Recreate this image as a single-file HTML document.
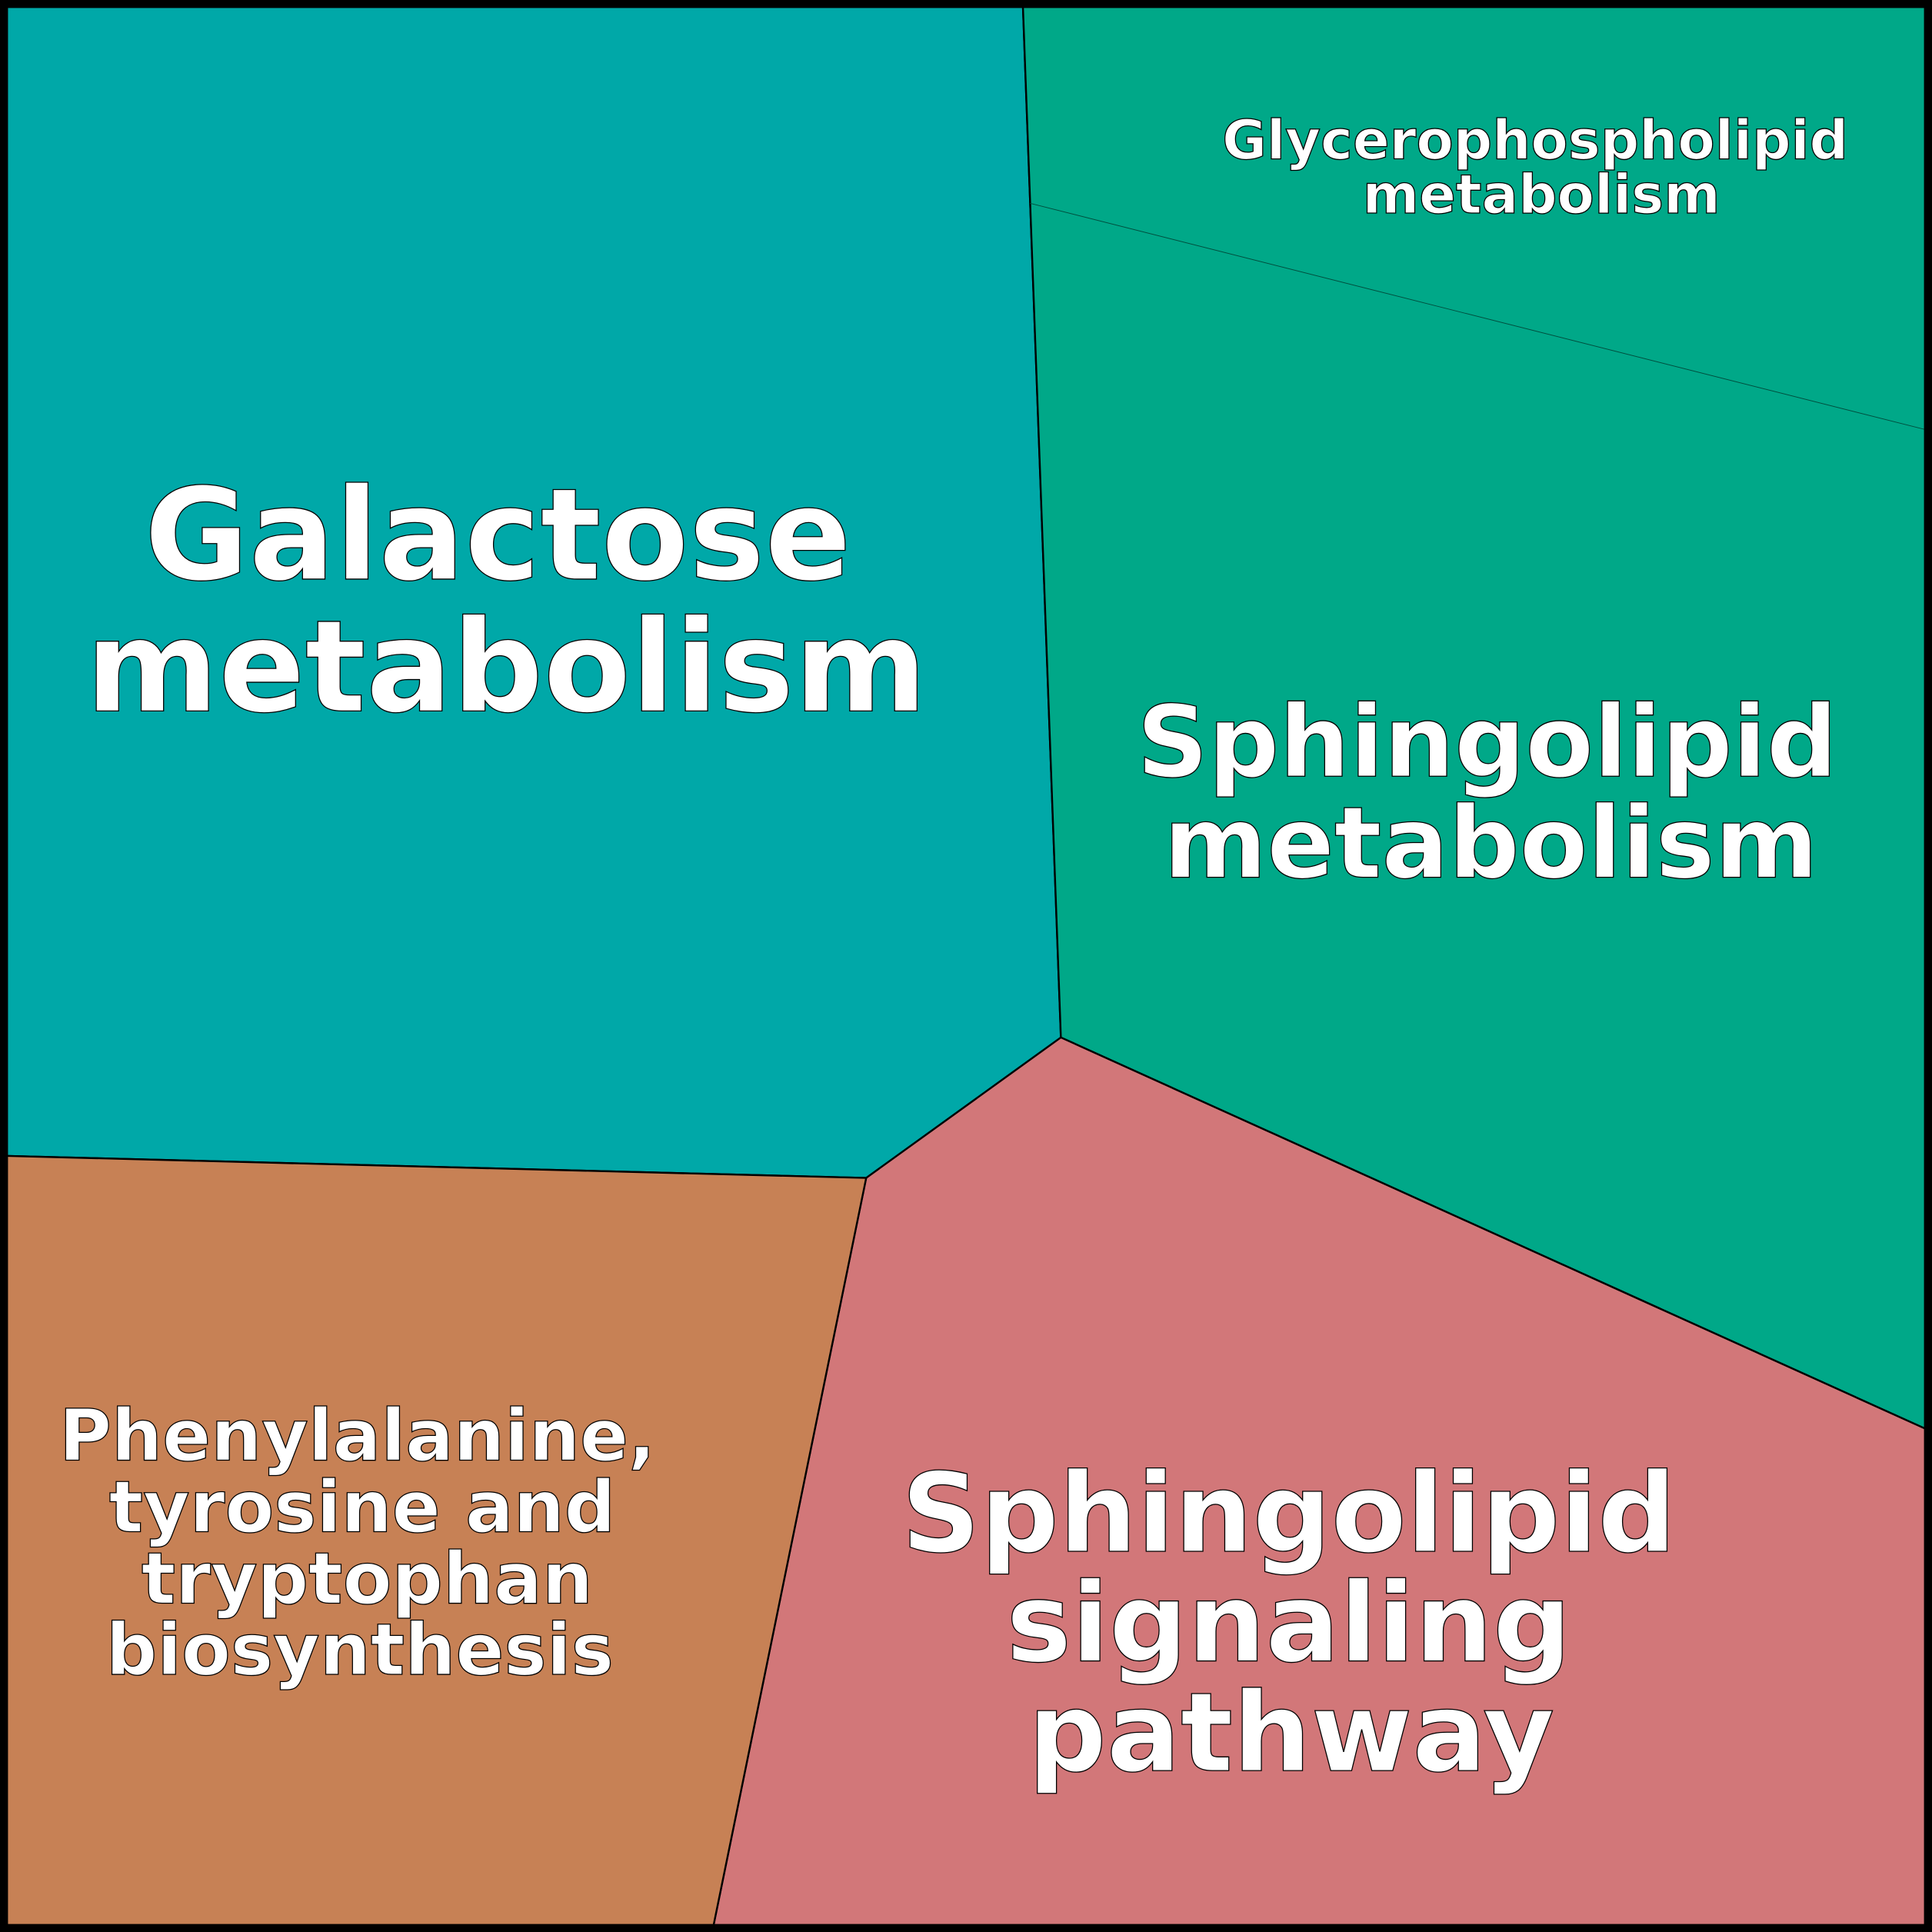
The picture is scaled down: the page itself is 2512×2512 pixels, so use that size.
<!DOCTYPE html>
<html><head><meta charset="utf-8"><style>html,body{margin:0;padding:0;background:#fff}svg{display:block}</style></head>
<body>
<svg width="2512" height="2512" viewBox="0 0 1568 1568" xmlns="http://www.w3.org/2000/svg">
<g stroke="#000" stroke-width="1.5" stroke-linejoin="round">
<polygon points="0,0 830,0 861,842 703,956 0,938" fill="#00A8A8"/>
<polygon points="830,0 1568,0 1568,350 836,165" fill="#00A888" stroke="none"/>
<polygon points="836,165 1568,350 1568,1162 861,842" fill="#00A888" stroke="none"/>
<polyline points="830,0 861,842 1568,1162" fill="none"/>
<polygon points="703,956 861,842 1568,1162 1568,1568 578,1568" fill="#D27779"/>
<polygon points="0,938 703,956 578,1568 0,1568" fill="#C78155"/>
</g>
<line x1="836" y1="165" x2="1568" y2="350" stroke="#004d3d" stroke-width="0.6"/>
<rect x="3" y="3" width="1562" height="1562" fill="none" stroke="#000" stroke-width="7"/>
<g font-family="'DejaVu Sans','Liberation Sans',sans-serif" font-weight="bold" fill="#fff" stroke="#000" stroke-width="0.8" text-anchor="middle">
<text x="404" y="470" font-size="103.5">Galactose</text>
<text x="411" y="577" font-size="103.5">metabolism</text>
<text x="1207" y="630" font-size="80.5">Sphingolipid</text>
<text x="1210" y="712" font-size="80.5">metabolism</text>
<text x="1246" y="129" font-size="44">Glycerophospholipid</text>
<text x="1251" y="173" font-size="44">metabolism</text>
<text x="290" y="1185" font-size="58">Phenylalanine,</text>
<text x="294" y="1243" font-size="58">tyrosine and</text>
<text x="298" y="1301" font-size="58">tryptophan</text>
<text x="292" y="1359" font-size="58">biosynthesis</text>
<text x="1046" y="1259" font-size="89">Sphingolipid</text>
<text x="1046" y="1348" font-size="89">signaling</text>
<text x="1048" y="1437" font-size="89">pathway</text>
</g>
</svg>
</body></html>
